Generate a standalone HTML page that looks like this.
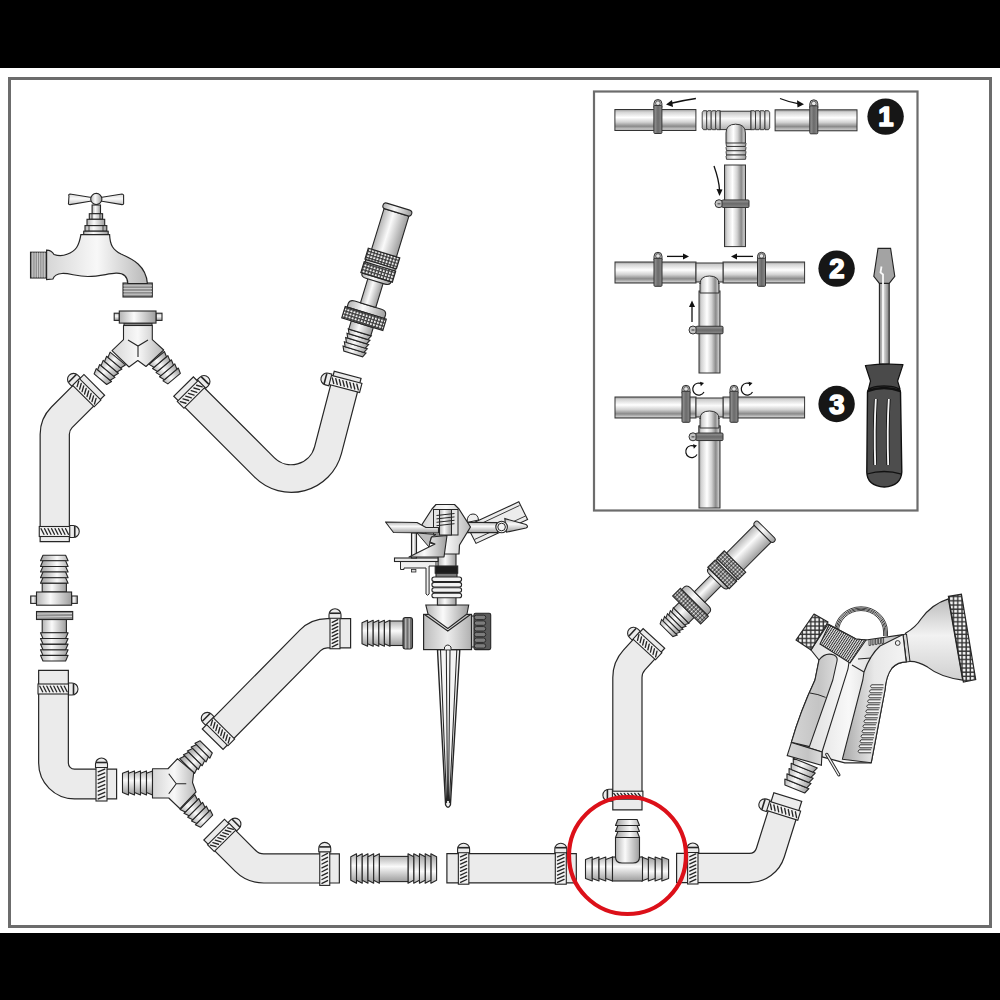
<!DOCTYPE html>
<html><head><meta charset="utf-8"><style>html,body{margin:0;padding:0;background:#fff;width:1000px;height:1000px;overflow:hidden}svg{display:block}</style></head>
<body><svg width="1000" height="1000" viewBox="0 0 1000 1000">
<defs>
<linearGradient id="met" x1="0" y1="0" x2="0" y2="1"><stop offset="0" stop-color="#a9a9a9"/><stop offset="0.35" stop-color="#fbfbfb"/><stop offset="1" stop-color="#8f8f8f"/></linearGradient>
<linearGradient id="mv" x1="0" y1="0" x2="0" y2="1"><stop offset="0" stop-color="#b4b4b4"/><stop offset="0.4" stop-color="#fafafa"/><stop offset="1" stop-color="#9d9d9d"/></linearGradient>
<linearGradient id="mh" x1="0" y1="0" x2="1" y2="0"><stop offset="0" stop-color="#b4b4b4"/><stop offset="0.4" stop-color="#fafafa"/><stop offset="1" stop-color="#9d9d9d"/></linearGradient>
<linearGradient id="mh2" x1="0" y1="0" x2="1" y2="0"><stop offset="0" stop-color="#d6d6d6"/><stop offset="0.5" stop-color="#f8f8f8"/><stop offset="1" stop-color="#b8b8b8"/></linearGradient>
<linearGradient id="bell" x1="0" y1="0" x2="0" y2="1"><stop offset="0" stop-color="#bdbdbd"/><stop offset="0.45" stop-color="#f2f2f2"/><stop offset="1" stop-color="#d0d0d0"/></linearGradient>
<pattern id="knurl2" patternUnits="userSpaceOnUse" width="4.2" height="4.2"><rect width="4.2" height="4.2" fill="#333"/><rect x="0.9" y="0.9" width="2.8" height="2.8" fill="#f4f4f4"/></pattern>
<pattern id="ribs" patternUnits="userSpaceOnUse" width="2.1" height="6" patternTransform="rotate(33)"><rect width="2.1" height="6" fill="#e8e8e8"/><rect width="0.95" height="6" fill="#2a2a2a"/></pattern>
<linearGradient id="trig" x1="0" y1="0" x2="1" y2="0"><stop offset="0" stop-color="#a8a8a8"/><stop offset="0.5" stop-color="#e8e8e8"/><stop offset="1" stop-color="#f4f4f4"/></linearGradient>
<linearGradient id="grip" x1="0" y1="0" x2="1" y2="0"><stop offset="0" stop-color="#d4d4d4"/><stop offset="0.6" stop-color="#c4c4c4"/><stop offset="1" stop-color="#dcdcdc"/></linearGradient>
<linearGradient id="pm" x1="0" y1="0" x2="0" y2="1"><stop offset="0" stop-color="#9a9a9a"/><stop offset="0.12" stop-color="#d4d4d4"/><stop offset="0.38" stop-color="#ffffff"/><stop offset="0.6" stop-color="#d2d2d2"/><stop offset="0.8" stop-color="#8a8a8a"/><stop offset="0.93" stop-color="#c4c4c4"/><stop offset="1" stop-color="#a0a0a0"/></linearGradient>
<linearGradient id="pmh" x1="0" y1="0" x2="1" y2="0"><stop offset="0" stop-color="#9a9a9a"/><stop offset="0.12" stop-color="#d4d4d4"/><stop offset="0.38" stop-color="#ffffff"/><stop offset="0.6" stop-color="#d2d2d2"/><stop offset="0.8" stop-color="#8a8a8a"/><stop offset="0.93" stop-color="#c4c4c4"/><stop offset="1" stop-color="#a0a0a0"/></linearGradient>
<linearGradient id="pm2" x1="0" y1="0" x2="0" y2="1"><stop offset="0" stop-color="#c0c0c0"/><stop offset="0.4" stop-color="#fafafa"/><stop offset="1" stop-color="#b0b0b0"/></linearGradient>
<linearGradient id="cm" x1="0" y1="0" x2="1" y2="0"><stop offset="0" stop-color="#9a9a9a"/><stop offset="0.5" stop-color="#6a6a6a"/><stop offset="1" stop-color="#8a8a8a"/></linearGradient>
<linearGradient id="cmh" x1="0" y1="0" x2="0" y2="1"><stop offset="0" stop-color="#9a9a9a"/><stop offset="0.5" stop-color="#6a6a6a"/><stop offset="1" stop-color="#8a8a8a"/></linearGradient>
<linearGradient id="sdm" x1="0" y1="0" x2="1" y2="0"><stop offset="0" stop-color="#8a8a8a"/><stop offset="0.45" stop-color="#d8d8d8"/><stop offset="1" stop-color="#7a7a7a"/></linearGradient>
<linearGradient id="sprb" x1="0" y1="0" x2="1" y2="0"><stop offset="0" stop-color="#bcbcbc"/><stop offset="0.5" stop-color="#ececec"/><stop offset="1" stop-color="#b0b0b0"/></linearGradient>
<linearGradient id="hdl" x1="0" y1="0" x2="0" y2="1"><stop offset="0" stop-color="#d8d8d8"/><stop offset="0.45" stop-color="#fafafa"/><stop offset="1" stop-color="#c4c4c4"/></linearGradient>
<pattern id="knurl" patternUnits="userSpaceOnUse" width="3.2" height="3.2"><rect width="3.2" height="3.2" fill="#3a3a3a"/><rect x="0.8" y="0.8" width="2" height="2" rx="0.4" fill="#f0f0f0"/></pattern>
</defs>
<rect x="0" y="0" width="1000" height="68" fill="#000"/>
<rect x="0" y="933" width="1000" height="67" fill="#000"/>
<rect x="9.5" y="78.5" width="981" height="848" fill="none" stroke="#6c6c6c" stroke-width="3"/>
<rect x="594" y="91.5" width="323.5" height="419" fill="none" stroke="#6c6c6c" stroke-width="2.2"/>
<path d="M94.70,384.40 L61.78,417.32 A24,24 0 0 0 54.75,434.29 L54.75,542.20" fill="none" stroke="#262626" stroke-width="30.4" stroke-linejoin="round"/>
<path d="M93.85,385.25 L61.78,417.32 A24,24 0 0 0 54.75,434.29 L54.75,541.00" fill="none" stroke="#ebebeb" stroke-width="28" stroke-linejoin="round"/>
<g transform="translate(86.60,392.50) rotate(135.00)"><rect x="-4.75" y="-15.5" width="9.5" height="31" fill="#f2f2f2" stroke="#262626" stroke-width="1.1"/><line x1="-2.55" y1="-10.85" x2="2.55" y2="-13.65" stroke="#262626" stroke-width="1.35" stroke-linecap="round"/><line x1="-2.55" y1="-7.35" x2="2.55" y2="-10.15" stroke="#262626" stroke-width="1.35" stroke-linecap="round"/><line x1="-2.55" y1="-3.85" x2="2.55" y2="-6.65" stroke="#262626" stroke-width="1.35" stroke-linecap="round"/><line x1="-2.55" y1="-0.35" x2="2.55" y2="-3.15" stroke="#262626" stroke-width="1.35" stroke-linecap="round"/><line x1="-2.55" y1="3.15" x2="2.55" y2="0.35" stroke="#262626" stroke-width="1.35" stroke-linecap="round"/><line x1="-2.55" y1="6.65" x2="2.55" y2="3.85" stroke="#262626" stroke-width="1.35" stroke-linecap="round"/><line x1="-2.55" y1="10.15" x2="2.55" y2="7.35" stroke="#262626" stroke-width="1.35" stroke-linecap="round"/><line x1="-2.55" y1="13.65" x2="2.55" y2="10.85" stroke="#262626" stroke-width="1.35" stroke-linecap="round"/><path d="M-6,15.0 L-6,18.5 A6,6 0 0 0 6,18.5 L6,15.0 Z" fill="#ececec" stroke="#262626" stroke-width="1.1"/><line x1="-5.5" y1="20.0" x2="5.5" y2="20.0" stroke="#262626" stroke-width="1.6"/></g>
<g transform="translate(54.75,531.50) rotate(-90.00)"><rect x="-5.0" y="-15.5" width="10" height="31" fill="#f2f2f2" stroke="#262626" stroke-width="1.1"/><line x1="-2.8" y1="-10.85" x2="2.8" y2="-13.65" stroke="#262626" stroke-width="1.35" stroke-linecap="round"/><line x1="-2.8" y1="-7.35" x2="2.8" y2="-10.15" stroke="#262626" stroke-width="1.35" stroke-linecap="round"/><line x1="-2.8" y1="-3.85" x2="2.8" y2="-6.65" stroke="#262626" stroke-width="1.35" stroke-linecap="round"/><line x1="-2.8" y1="-0.35" x2="2.8" y2="-3.15" stroke="#262626" stroke-width="1.35" stroke-linecap="round"/><line x1="-2.8" y1="3.15" x2="2.8" y2="0.35" stroke="#262626" stroke-width="1.35" stroke-linecap="round"/><line x1="-2.8" y1="6.65" x2="2.8" y2="3.85" stroke="#262626" stroke-width="1.35" stroke-linecap="round"/><line x1="-2.8" y1="10.15" x2="2.8" y2="7.35" stroke="#262626" stroke-width="1.35" stroke-linecap="round"/><line x1="-2.8" y1="13.65" x2="2.8" y2="10.85" stroke="#262626" stroke-width="1.35" stroke-linecap="round"/><path d="M-6,15.0 L-6,18.5 A6,6 0 0 0 6,18.5 L6,15.0 Z" fill="#ececec" stroke="#262626" stroke-width="1.1"/><line x1="-5.5" y1="20.0" x2="5.5" y2="20.0" stroke="#262626" stroke-width="1.6"/></g>
<path d="M53.50,669.80 L53.50,763.00 A21,21 0 0 0 74.50,784.00 L117.20,784.00" fill="none" stroke="#262626" stroke-width="30.9" stroke-linejoin="round"/>
<path d="M53.50,671.00 L53.50,763.00 A21,21 0 0 0 74.50,784.00 L116.00,784.00" fill="none" stroke="#ebebeb" stroke-width="28.5" stroke-linejoin="round"/>
<g transform="translate(53.50,689.00) rotate(90.00)"><rect x="-5.0" y="-15.5" width="10" height="31" fill="#f2f2f2" stroke="#262626" stroke-width="1.1"/><line x1="-2.8" y1="-10.85" x2="2.8" y2="-13.65" stroke="#262626" stroke-width="1.35" stroke-linecap="round"/><line x1="-2.8" y1="-7.35" x2="2.8" y2="-10.15" stroke="#262626" stroke-width="1.35" stroke-linecap="round"/><line x1="-2.8" y1="-3.85" x2="2.8" y2="-6.65" stroke="#262626" stroke-width="1.35" stroke-linecap="round"/><line x1="-2.8" y1="-0.35" x2="2.8" y2="-3.15" stroke="#262626" stroke-width="1.35" stroke-linecap="round"/><line x1="-2.8" y1="3.15" x2="2.8" y2="0.35" stroke="#262626" stroke-width="1.35" stroke-linecap="round"/><line x1="-2.8" y1="6.65" x2="2.8" y2="3.85" stroke="#262626" stroke-width="1.35" stroke-linecap="round"/><line x1="-2.8" y1="10.15" x2="2.8" y2="7.35" stroke="#262626" stroke-width="1.35" stroke-linecap="round"/><line x1="-2.8" y1="13.65" x2="2.8" y2="10.85" stroke="#262626" stroke-width="1.35" stroke-linecap="round"/><path d="M-6,-15.0 L-6,-18.5 A6,6 0 0 1 6,-18.5 L6,-15.0 Z" fill="#ececec" stroke="#262626" stroke-width="1.1"/><line x1="-5.5" y1="-20.0" x2="5.5" y2="-20.0" stroke="#262626" stroke-width="1.6"/></g>
<g transform="translate(101.50,784.00) rotate(180.00)"><rect x="-5.5" y="-17.0" width="11" height="34" fill="#f2f2f2" stroke="#262626" stroke-width="1.1"/><line x1="-3.3" y1="-12.16" x2="3.3" y2="-14.96" stroke="#262626" stroke-width="1.35" stroke-linecap="round"/><line x1="-3.3" y1="-8.29" x2="3.3" y2="-11.09" stroke="#262626" stroke-width="1.35" stroke-linecap="round"/><line x1="-3.3" y1="-4.41" x2="3.3" y2="-7.21" stroke="#262626" stroke-width="1.35" stroke-linecap="round"/><line x1="-3.3" y1="-0.54" x2="3.3" y2="-3.34" stroke="#262626" stroke-width="1.35" stroke-linecap="round"/><line x1="-3.3" y1="3.34" x2="3.3" y2="0.54" stroke="#262626" stroke-width="1.35" stroke-linecap="round"/><line x1="-3.3" y1="7.21" x2="3.3" y2="4.41" stroke="#262626" stroke-width="1.35" stroke-linecap="round"/><line x1="-3.3" y1="11.09" x2="3.3" y2="8.29" stroke="#262626" stroke-width="1.35" stroke-linecap="round"/><line x1="-3.3" y1="14.96" x2="3.3" y2="12.16" stroke="#262626" stroke-width="1.35" stroke-linecap="round"/><path d="M-6,16.5 L-6,20.0 A6,6 0 0 0 6,20.0 L6,16.5 Z" fill="#ececec" stroke="#262626" stroke-width="1.1"/><line x1="-5.5" y1="21.5" x2="5.5" y2="21.5" stroke="#262626" stroke-width="1.6"/></g>
<path d="M351.20,633.25 L327.28,633.25 A24,24 0 0 0 310.20,640.39 L212.26,739.60" fill="none" stroke="#262626" stroke-width="30.4" stroke-linejoin="round"/>
<path d="M350.00,633.25 L327.28,633.25 A24,24 0 0 0 310.20,640.39 L213.10,738.75" fill="none" stroke="#ebebeb" stroke-width="28" stroke-linejoin="round"/>
<g transform="translate(335.00,633.25) rotate(180.00)"><rect x="-5.0" y="-15.5" width="10" height="31" fill="#f2f2f2" stroke="#262626" stroke-width="1.1"/><line x1="-2.8" y1="-10.85" x2="2.8" y2="-13.65" stroke="#262626" stroke-width="1.35" stroke-linecap="round"/><line x1="-2.8" y1="-7.35" x2="2.8" y2="-10.15" stroke="#262626" stroke-width="1.35" stroke-linecap="round"/><line x1="-2.8" y1="-3.85" x2="2.8" y2="-6.65" stroke="#262626" stroke-width="1.35" stroke-linecap="round"/><line x1="-2.8" y1="-0.35" x2="2.8" y2="-3.15" stroke="#262626" stroke-width="1.35" stroke-linecap="round"/><line x1="-2.8" y1="3.15" x2="2.8" y2="0.35" stroke="#262626" stroke-width="1.35" stroke-linecap="round"/><line x1="-2.8" y1="6.65" x2="2.8" y2="3.85" stroke="#262626" stroke-width="1.35" stroke-linecap="round"/><line x1="-2.8" y1="10.15" x2="2.8" y2="7.35" stroke="#262626" stroke-width="1.35" stroke-linecap="round"/><line x1="-2.8" y1="13.65" x2="2.8" y2="10.85" stroke="#262626" stroke-width="1.35" stroke-linecap="round"/><path d="M-6,15.0 L-6,18.5 A6,6 0 0 0 6,18.5 L6,15.0 Z" fill="#ececec" stroke="#262626" stroke-width="1.1"/><line x1="-5.5" y1="20.0" x2="5.5" y2="20.0" stroke="#262626" stroke-width="1.6"/></g>
<g transform="translate(220.35,731.50) rotate(-45.00)"><rect x="-4.75" y="-15.5" width="9.5" height="31" fill="#f2f2f2" stroke="#262626" stroke-width="1.1"/><line x1="-2.55" y1="-10.85" x2="2.55" y2="-13.65" stroke="#262626" stroke-width="1.35" stroke-linecap="round"/><line x1="-2.55" y1="-7.35" x2="2.55" y2="-10.15" stroke="#262626" stroke-width="1.35" stroke-linecap="round"/><line x1="-2.55" y1="-3.85" x2="2.55" y2="-6.65" stroke="#262626" stroke-width="1.35" stroke-linecap="round"/><line x1="-2.55" y1="-0.35" x2="2.55" y2="-3.15" stroke="#262626" stroke-width="1.35" stroke-linecap="round"/><line x1="-2.55" y1="3.15" x2="2.55" y2="0.35" stroke="#262626" stroke-width="1.35" stroke-linecap="round"/><line x1="-2.55" y1="6.65" x2="2.55" y2="3.85" stroke="#262626" stroke-width="1.35" stroke-linecap="round"/><line x1="-2.55" y1="10.15" x2="2.55" y2="7.35" stroke="#262626" stroke-width="1.35" stroke-linecap="round"/><line x1="-2.55" y1="13.65" x2="2.55" y2="10.85" stroke="#262626" stroke-width="1.35" stroke-linecap="round"/><path d="M-6,-15.0 L-6,-18.5 A6,6 0 0 1 6,-18.5 L6,-15.0 Z" fill="#ececec" stroke="#262626" stroke-width="1.1"/><line x1="-5.5" y1="-20.0" x2="5.5" y2="-20.0" stroke="#262626" stroke-width="1.6"/></g>
<path d="M213.75,829.15 L245.38,860.78 A26,26 0 0 0 263.77,868.40 L339.95,868.40" fill="none" stroke="#262626" stroke-width="30.4" stroke-linejoin="round"/>
<path d="M214.60,830.00 L245.38,860.78 A26,26 0 0 0 263.77,868.40 L338.75,868.40" fill="none" stroke="#ebebeb" stroke-width="28" stroke-linejoin="round"/>
<g transform="translate(221.85,837.25) rotate(45.00)"><rect x="-4.75" y="-15.5" width="9.5" height="31" fill="#f2f2f2" stroke="#262626" stroke-width="1.1"/><line x1="-2.55" y1="-10.85" x2="2.55" y2="-13.65" stroke="#262626" stroke-width="1.35" stroke-linecap="round"/><line x1="-2.55" y1="-7.35" x2="2.55" y2="-10.15" stroke="#262626" stroke-width="1.35" stroke-linecap="round"/><line x1="-2.55" y1="-3.85" x2="2.55" y2="-6.65" stroke="#262626" stroke-width="1.35" stroke-linecap="round"/><line x1="-2.55" y1="-0.35" x2="2.55" y2="-3.15" stroke="#262626" stroke-width="1.35" stroke-linecap="round"/><line x1="-2.55" y1="3.15" x2="2.55" y2="0.35" stroke="#262626" stroke-width="1.35" stroke-linecap="round"/><line x1="-2.55" y1="6.65" x2="2.55" y2="3.85" stroke="#262626" stroke-width="1.35" stroke-linecap="round"/><line x1="-2.55" y1="10.15" x2="2.55" y2="7.35" stroke="#262626" stroke-width="1.35" stroke-linecap="round"/><line x1="-2.55" y1="13.65" x2="2.55" y2="10.85" stroke="#262626" stroke-width="1.35" stroke-linecap="round"/><path d="M-6,-15.0 L-6,-18.5 A6,6 0 0 1 6,-18.5 L6,-15.0 Z" fill="#ececec" stroke="#262626" stroke-width="1.1"/><line x1="-5.5" y1="-20.0" x2="5.5" y2="-20.0" stroke="#262626" stroke-width="1.6"/></g>
<g transform="translate(324.75,868.40) rotate(180.00)"><rect x="-5.0" y="-17.0" width="10" height="34" fill="#f2f2f2" stroke="#262626" stroke-width="1.1"/><line x1="-2.8" y1="-12.16" x2="2.8" y2="-14.96" stroke="#262626" stroke-width="1.35" stroke-linecap="round"/><line x1="-2.8" y1="-8.29" x2="2.8" y2="-11.09" stroke="#262626" stroke-width="1.35" stroke-linecap="round"/><line x1="-2.8" y1="-4.41" x2="2.8" y2="-7.21" stroke="#262626" stroke-width="1.35" stroke-linecap="round"/><line x1="-2.8" y1="-0.54" x2="2.8" y2="-3.34" stroke="#262626" stroke-width="1.35" stroke-linecap="round"/><line x1="-2.8" y1="3.34" x2="2.8" y2="0.54" stroke="#262626" stroke-width="1.35" stroke-linecap="round"/><line x1="-2.8" y1="7.21" x2="2.8" y2="4.41" stroke="#262626" stroke-width="1.35" stroke-linecap="round"/><line x1="-2.8" y1="11.09" x2="2.8" y2="8.29" stroke="#262626" stroke-width="1.35" stroke-linecap="round"/><line x1="-2.8" y1="14.96" x2="2.8" y2="12.16" stroke="#262626" stroke-width="1.35" stroke-linecap="round"/><path d="M-6,16.5 L-6,20.0 A6,6 0 0 0 6,20.0 L6,16.5 Z" fill="#ececec" stroke="#262626" stroke-width="1.1"/><line x1="-5.5" y1="21.5" x2="5.5" y2="21.5" stroke="#262626" stroke-width="1.6"/></g>
<path d="M446.30,868.20 L576.90,868.20" fill="none" stroke="#262626" stroke-width="30.4" stroke-linejoin="round"/>
<path d="M447.50,868.20 L575.70,868.20" fill="none" stroke="#ebebeb" stroke-width="28" stroke-linejoin="round"/>
<g transform="translate(463.60,868.20) rotate(0.00)"><rect x="-5.25" y="-16.0" width="10.5" height="32" fill="#f2f2f2" stroke="#262626" stroke-width="1.1"/><line x1="-3.05" y1="-11.29" x2="3.05" y2="-14.09" stroke="#262626" stroke-width="1.35" stroke-linecap="round"/><line x1="-3.05" y1="-7.66" x2="3.05" y2="-10.46" stroke="#262626" stroke-width="1.35" stroke-linecap="round"/><line x1="-3.05" y1="-4.04" x2="3.05" y2="-6.84" stroke="#262626" stroke-width="1.35" stroke-linecap="round"/><line x1="-3.05" y1="-0.41" x2="3.05" y2="-3.21" stroke="#262626" stroke-width="1.35" stroke-linecap="round"/><line x1="-3.05" y1="3.21" x2="3.05" y2="0.41" stroke="#262626" stroke-width="1.35" stroke-linecap="round"/><line x1="-3.05" y1="6.84" x2="3.05" y2="4.04" stroke="#262626" stroke-width="1.35" stroke-linecap="round"/><line x1="-3.05" y1="10.46" x2="3.05" y2="7.66" stroke="#262626" stroke-width="1.35" stroke-linecap="round"/><line x1="-3.05" y1="14.09" x2="3.05" y2="11.29" stroke="#262626" stroke-width="1.35" stroke-linecap="round"/><path d="M-6,-15.5 L-6,-19.0 A6,6 0 0 1 6,-19.0 L6,-15.5 Z" fill="#ececec" stroke="#262626" stroke-width="1.1"/><line x1="-5.5" y1="-20.5" x2="5.5" y2="-20.5" stroke="#262626" stroke-width="1.6"/></g>
<g transform="translate(560.80,868.20) rotate(0.00)"><rect x="-5.5" y="-16.0" width="11" height="32" fill="#f2f2f2" stroke="#262626" stroke-width="1.1"/><line x1="-3.3" y1="-11.29" x2="3.3" y2="-14.09" stroke="#262626" stroke-width="1.35" stroke-linecap="round"/><line x1="-3.3" y1="-7.66" x2="3.3" y2="-10.46" stroke="#262626" stroke-width="1.35" stroke-linecap="round"/><line x1="-3.3" y1="-4.04" x2="3.3" y2="-6.84" stroke="#262626" stroke-width="1.35" stroke-linecap="round"/><line x1="-3.3" y1="-0.41" x2="3.3" y2="-3.21" stroke="#262626" stroke-width="1.35" stroke-linecap="round"/><line x1="-3.3" y1="3.21" x2="3.3" y2="0.41" stroke="#262626" stroke-width="1.35" stroke-linecap="round"/><line x1="-3.3" y1="6.84" x2="3.3" y2="4.04" stroke="#262626" stroke-width="1.35" stroke-linecap="round"/><line x1="-3.3" y1="10.46" x2="3.3" y2="7.66" stroke="#262626" stroke-width="1.35" stroke-linecap="round"/><line x1="-3.3" y1="14.09" x2="3.3" y2="11.29" stroke="#262626" stroke-width="1.35" stroke-linecap="round"/><path d="M-6,-15.5 L-6,-19.0 A6,6 0 0 1 6,-19.0 L6,-15.5 Z" fill="#ececec" stroke="#262626" stroke-width="1.1"/><line x1="-5.5" y1="-20.5" x2="5.5" y2="-20.5" stroke="#262626" stroke-width="1.6"/></g>
<path d="M183.15,386.15 L264.39,467.39 A38,38 0 0 0 328.03,450.10 L347.80,374.24" fill="none" stroke="#262626" stroke-width="28.9" stroke-linejoin="round"/>
<path d="M184.00,387.00 L264.39,467.39 A38,38 0 0 0 328.03,450.10 L347.50,375.40" fill="none" stroke="#ebebeb" stroke-width="26.5" stroke-linejoin="round"/>
<g transform="translate(191.25,394.25) rotate(45.00)"><rect x="-4.75" y="-15.0" width="9.5" height="30" fill="#f2f2f2" stroke="#262626" stroke-width="1.1"/><line x1="-2.55" y1="-10.17" x2="2.55" y2="-12.97" stroke="#262626" stroke-width="1.35" stroke-linecap="round"/><line x1="-2.55" y1="-6.31" x2="2.55" y2="-9.11" stroke="#262626" stroke-width="1.35" stroke-linecap="round"/><line x1="-2.55" y1="-2.46" x2="2.55" y2="-5.26" stroke="#262626" stroke-width="1.35" stroke-linecap="round"/><line x1="-2.55" y1="1.40" x2="2.55" y2="-1.40" stroke="#262626" stroke-width="1.35" stroke-linecap="round"/><line x1="-2.55" y1="5.26" x2="2.55" y2="2.46" stroke="#262626" stroke-width="1.35" stroke-linecap="round"/><line x1="-2.55" y1="9.11" x2="2.55" y2="6.31" stroke="#262626" stroke-width="1.35" stroke-linecap="round"/><line x1="-2.55" y1="12.97" x2="2.55" y2="10.17" stroke="#262626" stroke-width="1.35" stroke-linecap="round"/><path d="M-6,-14.5 L-6,-18.0 A6,6 0 0 1 6,-18.0 L6,-14.5 Z" fill="#ececec" stroke="#262626" stroke-width="1.1"/><line x1="-5.5" y1="-19.5" x2="5.5" y2="-19.5" stroke="#262626" stroke-width="1.6"/></g>
<g transform="translate(345.29,383.87) rotate(104.60)"><rect x="-4.75" y="-16.0" width="9.5" height="32" fill="#f2f2f2" stroke="#262626" stroke-width="1.1"/><line x1="-2.55" y1="-11.29" x2="2.55" y2="-14.09" stroke="#262626" stroke-width="1.35" stroke-linecap="round"/><line x1="-2.55" y1="-7.66" x2="2.55" y2="-10.46" stroke="#262626" stroke-width="1.35" stroke-linecap="round"/><line x1="-2.55" y1="-4.04" x2="2.55" y2="-6.84" stroke="#262626" stroke-width="1.35" stroke-linecap="round"/><line x1="-2.55" y1="-0.41" x2="2.55" y2="-3.21" stroke="#262626" stroke-width="1.35" stroke-linecap="round"/><line x1="-2.55" y1="3.21" x2="2.55" y2="0.41" stroke="#262626" stroke-width="1.35" stroke-linecap="round"/><line x1="-2.55" y1="6.84" x2="2.55" y2="4.04" stroke="#262626" stroke-width="1.35" stroke-linecap="round"/><line x1="-2.55" y1="10.46" x2="2.55" y2="7.66" stroke="#262626" stroke-width="1.35" stroke-linecap="round"/><line x1="-2.55" y1="14.09" x2="2.55" y2="11.29" stroke="#262626" stroke-width="1.35" stroke-linecap="round"/><path d="M-6,15.5 L-6,19.0 A6,6 0 0 0 6,19.0 L6,15.5 Z" fill="#ececec" stroke="#262626" stroke-width="1.1"/><line x1="-5.5" y1="20.5" x2="5.5" y2="20.5" stroke="#262626" stroke-width="1.6"/></g>
<path d="M69,196 Q68,194.5 70,194 L90,197.3 L102,197.3 L122,194 Q124,194.5 123.6,196 L123.6,203 Q124,204.6 122,204.6 L102,201.2 L90,201.2 L70,204.6 Q68,204.6 68.5,203 Z" fill="url(#hdl)" stroke="#262626" stroke-width="1.1"/><circle cx="96.3" cy="199" r="5.6" fill="url(#mh)" stroke="#262626" stroke-width="1.1"/><rect x="92.10" y="205.00" width="8.40" height="8.70" fill="url(#mh)" stroke="#262626" stroke-width="1.1" /><rect x="89.30" y="213.70" width="13.30" height="5.60" fill="url(#mh)" stroke="#262626" stroke-width="1.1" /><rect x="87.00" y="219.30" width="17.70" height="6.30" fill="url(#mh)" stroke="#262626" stroke-width="1.1" /><rect x="85.00" y="225.60" width="21.80" height="5.60" fill="url(#mh)" stroke="#262626" stroke-width="1.1" /><line x1="92" y1="213.7" x2="92" y2="219.3" stroke="#262626" stroke-width="0.8"/><line x1="100" y1="213.7" x2="100" y2="219.3" stroke="#262626" stroke-width="0.8"/><line x1="89" y1="225.6" x2="89" y2="231.2" stroke="#262626" stroke-width="0.8"/><line x1="103" y1="225.6" x2="103" y2="231.2" stroke="#262626" stroke-width="0.8"/><rect x="83.70" y="231.20" width="24.50" height="3.50" fill="url(#mh)" stroke="#262626" stroke-width="1.1" /><rect x="30.50" y="252.20" width="16.10" height="25.80" fill="#8d8d8d" stroke="#262626" stroke-width="1.1" /><line x1="32.80" y1="252.5" x2="32.80" y2="277.5" stroke="#d8d8d8" stroke-width="0.9"/><line x1="35.10" y1="252.5" x2="35.10" y2="277.5" stroke="#d8d8d8" stroke-width="0.9"/><line x1="37.40" y1="252.5" x2="37.40" y2="277.5" stroke="#d8d8d8" stroke-width="0.9"/><line x1="39.70" y1="252.5" x2="39.70" y2="277.5" stroke="#d8d8d8" stroke-width="0.9"/><line x1="42.00" y1="252.5" x2="42.00" y2="277.5" stroke="#d8d8d8" stroke-width="0.9"/><line x1="44.30" y1="252.5" x2="44.30" y2="277.5" stroke="#d8d8d8" stroke-width="0.9"/><rect x="123.00" y="283.00" width="29.30" height="14.00" fill="#8d8d8d" stroke="#262626" stroke-width="1.1" /><line x1="123.5" y1="285.80" x2="152" y2="285.80" stroke="#d8d8d8" stroke-width="0.9"/><line x1="123.5" y1="288.60" x2="152" y2="288.60" stroke="#d8d8d8" stroke-width="0.9"/><line x1="123.5" y1="291.40" x2="152" y2="291.40" stroke="#d8d8d8" stroke-width="0.9"/><line x1="123.5" y1="294.20" x2="152" y2="294.20" stroke="#d8d8d8" stroke-width="0.9"/><path d="M80.9,234.7 L109.6,234.7 C110,245 113,250 121,254 C132,259 146,265 147.4,283.5 L127.8,283.5 C127.5,275 122,273 116,273.2 C108,273.5 100,276.5 88,276.5 C76,276.5 70,273 62,273.5 C56,274 54,276 52.9,279 L46.6,279.5 L46.6,250.1 C50,250.2 52,251 54,254.5 C58,256 63,256 67,254.3 C76,251 79,246 80.9,234.7 Z" fill="url(#mh2)" stroke="#262626" stroke-width="1.2"/>

<g transform="translate(100.40,379.20) rotate(-50.00)"><path d="M0.00,-8.20 L5.40,-10.00 L5.40,10.00 L0.00,8.20 Z" fill="url(#mv)" stroke="#262626" stroke-width="1.1" stroke-linejoin="round"/><path d="M5.40,-8.20 L10.80,-10.00 L10.80,10.00 L5.40,8.20 Z" fill="url(#mv)" stroke="#262626" stroke-width="1.1" stroke-linejoin="round"/><path d="M10.80,-8.20 L16.20,-10.00 L16.20,10.00 L10.80,8.20 Z" fill="url(#mv)" stroke="#262626" stroke-width="1.1" stroke-linejoin="round"/><path d="M16.20,-8.20 L21.60,-10.00 L21.60,10.00 L16.20,8.20 Z" fill="url(#mv)" stroke="#262626" stroke-width="1.1" stroke-linejoin="round"/><path d="M21.60,-8.20 L27.00,-10.00 L27.00,10.00 L21.60,8.20 Z" fill="url(#mv)" stroke="#262626" stroke-width="1.1" stroke-linejoin="round"/></g>
<g transform="translate(174.10,378.60) rotate(-130.00)"><path d="M0.00,-8.20 L5.40,-10.00 L5.40,10.00 L0.00,8.20 Z" fill="url(#mv)" stroke="#262626" stroke-width="1.1" stroke-linejoin="round"/><path d="M5.40,-8.20 L10.80,-10.00 L10.80,10.00 L5.40,8.20 Z" fill="url(#mv)" stroke="#262626" stroke-width="1.1" stroke-linejoin="round"/><path d="M10.80,-8.20 L16.20,-10.00 L16.20,10.00 L10.80,8.20 Z" fill="url(#mv)" stroke="#262626" stroke-width="1.1" stroke-linejoin="round"/><path d="M16.20,-8.20 L21.60,-10.00 L21.60,10.00 L16.20,8.20 Z" fill="url(#mv)" stroke="#262626" stroke-width="1.1" stroke-linejoin="round"/><path d="M21.60,-8.20 L27.00,-10.00 L27.00,10.00 L21.60,8.20 Z" fill="url(#mv)" stroke="#262626" stroke-width="1.1" stroke-linejoin="round"/></g>
<path d="M123.5,325.5 L152.3,325.5 L152.3,339.6 L163.7,350 L146,366.5 L137.8,360.5 L129,367 L112,350.6 L123.5,339.6 Z" fill="url(#mh2)" stroke="#262626" stroke-width="1.1" stroke-linejoin="round"/><path d="M128,340 L138,346 L148,340 M138,346 L138,357" fill="none" stroke="#262626" stroke-width="1.1"/><rect x="124.00" y="323.00" width="28.00" height="2.50" fill="#8a8a8a" stroke="#262626" stroke-width="1.1" /><rect x="114.20" y="313.20" width="5.10" height="7.20" fill="url(#mv)" stroke="#262626" stroke-width="1.1" /><rect x="156.00" y="313.20" width="6.00" height="7.20" fill="url(#mv)" stroke="#262626" stroke-width="1.1" /><rect x="119.30" y="311.00" width="36.70" height="12.10" fill="url(#mh)" stroke="#262626" stroke-width="1.1" />

<g transform="translate(54.30,555.20) rotate(90.00)"><path d="M0.00,-11.32 L5.62,-13.80 L5.62,13.80 L0.00,11.32 Z" fill="url(#mv)" stroke="#262626" stroke-width="1.1" stroke-linejoin="round"/><path d="M5.62,-11.32 L11.24,-13.80 L11.24,13.80 L5.62,11.32 Z" fill="url(#mv)" stroke="#262626" stroke-width="1.1" stroke-linejoin="round"/><path d="M11.24,-11.32 L16.86,-13.80 L16.86,13.80 L11.24,11.32 Z" fill="url(#mv)" stroke="#262626" stroke-width="1.1" stroke-linejoin="round"/><path d="M16.86,-11.32 L22.48,-13.80 L22.48,13.80 L16.86,11.32 Z" fill="url(#mv)" stroke="#262626" stroke-width="1.1" stroke-linejoin="round"/><path d="M22.48,-11.32 L28.10,-13.80 L28.10,13.80 L22.48,11.32 Z" fill="url(#mv)" stroke="#262626" stroke-width="1.1" stroke-linejoin="round"/></g>
<rect x="42.20" y="583.30" width="24.20" height="8.70" fill="url(#mh)" stroke="#262626" stroke-width="1.1" /><rect x="30.70" y="596.00" width="5.80" height="7.40" fill="url(#mh)" stroke="#262626" stroke-width="1.1" /><rect x="71.60" y="596.00" width="5.70" height="7.40" fill="url(#mh)" stroke="#262626" stroke-width="1.1" /><rect x="36.50" y="592.00" width="35.10" height="13.20" fill="url(#mh)" stroke="#262626" stroke-width="1.1" /><rect x="42.20" y="619.50" width="24.20" height="13.30" fill="url(#mh)" stroke="#262626" stroke-width="1.1" /><rect x="36.50" y="611.50" width="36.20" height="8.00" fill="#8f8f8f" stroke="#262626" stroke-width="1.1" /><path d="M37,614 L72,613.5 M37,617 L72,616.5" stroke="#dcdcdc" stroke-width="0.9"/>
<g transform="translate(54.30,661.00) rotate(-90.00)"><path d="M0.00,-11.32 L5.64,-13.80 L5.64,13.80 L0.00,11.32 Z" fill="url(#mv)" stroke="#262626" stroke-width="1.1" stroke-linejoin="round"/><path d="M5.64,-11.32 L11.28,-13.80 L11.28,13.80 L5.64,11.32 Z" fill="url(#mv)" stroke="#262626" stroke-width="1.1" stroke-linejoin="round"/><path d="M11.28,-11.32 L16.92,-13.80 L16.92,13.80 L11.28,11.32 Z" fill="url(#mv)" stroke="#262626" stroke-width="1.1" stroke-linejoin="round"/><path d="M16.92,-11.32 L22.56,-13.80 L22.56,13.80 L16.92,11.32 Z" fill="url(#mv)" stroke="#262626" stroke-width="1.1" stroke-linejoin="round"/><path d="M22.56,-11.32 L28.20,-13.80 L28.20,13.80 L22.56,11.32 Z" fill="url(#mv)" stroke="#262626" stroke-width="1.1" stroke-linejoin="round"/></g>
<g transform="translate(353.20,353.90) rotate(-73.00)" ><g transform="scale(1.0)"><path d="M0.00,-9.84 L4.50,-12.00 L4.50,12.00 L0.00,9.84 Z" fill="url(#mv)" stroke="#262626" stroke-width="1.1"/><path d="M4.50,-9.84 L9.00,-12.00 L9.00,12.00 L4.50,9.84 Z" fill="url(#mv)" stroke="#262626" stroke-width="1.1"/><path d="M9.00,-9.84 L13.50,-12.00 L13.50,12.00 L9.00,9.84 Z" fill="url(#mv)" stroke="#262626" stroke-width="1.1"/><path d="M13.50,-9.84 L18.00,-12.00 L18.00,12.00 L13.50,9.84 Z" fill="url(#mv)" stroke="#262626" stroke-width="1.1"/><path d="M18.00,-9.84 L22.50,-12.00 L22.50,12.00 L18.00,9.84 Z" fill="url(#mv)" stroke="#262626" stroke-width="1.1"/><rect x="22.50" y="-11.50" width="8.50" height="23.00" fill="url(#mv)" stroke="#262626" stroke-width="1.1" /><path d="M43,-19.5 L47,-19.5 Q51,-19 51,-14 L51,14 Q51,19 47,19.5 L43,19.5 Z" fill="url(#mv)" stroke="#262626" stroke-width="1.1"/><rect x="31.00" y="-21.50" width="12.00" height="43.00" fill="url(#knurl)" stroke="#262626" stroke-width="1.1"/><rect x="51.00" y="-8.00" width="26.00" height="16.00" fill="url(#mv)" stroke="#262626" stroke-width="1.1" /><path d="M80,-15 L78.5,-15 Q76,-14 76,-10 L76,10 Q76,14 78.5,15 L80,15 Z" fill="url(#mv)" stroke="#262626" stroke-width="1.1"/><rect x="80.00" y="-16.50" width="11.50" height="33.00" fill="url(#knurl)" stroke="#262626" stroke-width="1.1"/><rect x="91.50" y="-15.50" width="2.50" height="31.00" fill="url(#mv)" stroke="#262626" stroke-width="1.1" /><rect x="94.00" y="-16.50" width="11.50" height="33.00" fill="url(#knurl)" stroke="#262626" stroke-width="1.1"/><rect x="105.50" y="-13.00" width="42.50" height="26.00" fill="url(#mv)" stroke="#262626" stroke-width="1.1" /><rect x="148" y="-15" width="6" height="30" rx="3" fill="url(#mv)" stroke="#262626" stroke-width="1.1"/></g></g>
<g transform="translate(122.50,782.90) rotate(0.00)"><path d="M0.00,-9.60 L6.00,-12.00 L6.00,12.00 L0.00,9.60 Z" fill="url(#mv)" stroke="#262626" stroke-width="1.1" stroke-linejoin="round"/><path d="M6.00,-9.60 L12.00,-12.00 L12.00,12.00 L6.00,9.60 Z" fill="url(#mv)" stroke="#262626" stroke-width="1.1" stroke-linejoin="round"/><path d="M12.00,-9.60 L18.00,-12.00 L18.00,12.00 L12.00,9.60 Z" fill="url(#mv)" stroke="#262626" stroke-width="1.1" stroke-linejoin="round"/><path d="M18.00,-9.60 L24.00,-12.00 L24.00,12.00 L18.00,9.60 Z" fill="url(#mv)" stroke="#262626" stroke-width="1.1" stroke-linejoin="round"/><path d="M24.00,-9.60 L30.00,-12.00 L30.00,12.00 L24.00,9.60 Z" fill="url(#mv)" stroke="#262626" stroke-width="1.1" stroke-linejoin="round"/></g>
<g transform="translate(206.20,746.90) rotate(135.00)"><path d="M0.00,-8.61 L5.40,-10.50 L5.40,10.50 L0.00,8.61 Z" fill="url(#mv)" stroke="#262626" stroke-width="1.1" stroke-linejoin="round"/><path d="M5.40,-8.61 L10.80,-10.50 L10.80,10.50 L5.40,8.61 Z" fill="url(#mv)" stroke="#262626" stroke-width="1.1" stroke-linejoin="round"/><path d="M10.80,-8.61 L16.20,-10.50 L16.20,10.50 L10.80,8.61 Z" fill="url(#mv)" stroke="#262626" stroke-width="1.1" stroke-linejoin="round"/><path d="M16.20,-8.61 L21.60,-10.50 L21.60,10.50 L16.20,8.61 Z" fill="url(#mv)" stroke="#262626" stroke-width="1.1" stroke-linejoin="round"/><path d="M21.60,-8.61 L27.00,-10.50 L27.00,10.50 L21.60,8.61 Z" fill="url(#mv)" stroke="#262626" stroke-width="1.1" stroke-linejoin="round"/></g>
<g transform="translate(206.60,821.20) rotate(-135.00)"><path d="M0.00,-8.61 L5.40,-10.50 L5.40,10.50 L0.00,8.61 Z" fill="url(#mv)" stroke="#262626" stroke-width="1.1" stroke-linejoin="round"/><path d="M5.40,-8.61 L10.80,-10.50 L10.80,10.50 L5.40,8.61 Z" fill="url(#mv)" stroke="#262626" stroke-width="1.1" stroke-linejoin="round"/><path d="M10.80,-8.61 L16.20,-10.50 L16.20,10.50 L10.80,8.61 Z" fill="url(#mv)" stroke="#262626" stroke-width="1.1" stroke-linejoin="round"/><path d="M16.20,-8.61 L21.60,-10.50 L21.60,10.50 L16.20,8.61 Z" fill="url(#mv)" stroke="#262626" stroke-width="1.1" stroke-linejoin="round"/><path d="M21.60,-8.61 L27.00,-10.50 L27.00,10.50 L21.60,8.61 Z" fill="url(#mv)" stroke="#262626" stroke-width="1.1" stroke-linejoin="round"/></g>
<path d="M152.5,768.75 L168,768.75 L177.5,758.75 L193.75,772.5 L192.5,782.5 L196,792 L180,808.75 L168.75,798 L152.5,798 Z" fill="url(#mh2)" stroke="#262626" stroke-width="1.1" stroke-linejoin="round"/><path d="M168.75,773.75 L176.25,783.75 L186.25,783.75 M176.25,783.75 L168.75,793.75" fill="none" stroke="#262626" stroke-width="1.1"/>
<g transform="translate(350.80,868.50) rotate(0.00)"><path d="M0.00,-11.76 L5.72,-14.70 L5.72,14.70 L0.00,11.76 Z" fill="url(#mv)" stroke="#262626" stroke-width="1.1" stroke-linejoin="round"/><path d="M5.72,-11.76 L11.44,-14.70 L11.44,14.70 L5.72,11.76 Z" fill="url(#mv)" stroke="#262626" stroke-width="1.1" stroke-linejoin="round"/><path d="M11.44,-11.76 L17.16,-14.70 L17.16,14.70 L11.44,11.76 Z" fill="url(#mv)" stroke="#262626" stroke-width="1.1" stroke-linejoin="round"/><path d="M17.16,-11.76 L22.88,-14.70 L22.88,14.70 L17.16,11.76 Z" fill="url(#mv)" stroke="#262626" stroke-width="1.1" stroke-linejoin="round"/><path d="M22.88,-11.76 L28.60,-14.70 L28.60,14.70 L22.88,11.76 Z" fill="url(#mv)" stroke="#262626" stroke-width="1.1" stroke-linejoin="round"/></g>
<g transform="translate(436.60,868.50) rotate(180.00)"><path d="M0.00,-11.76 L5.72,-14.70 L5.72,14.70 L0.00,11.76 Z" fill="url(#mv)" stroke="#262626" stroke-width="1.1" stroke-linejoin="round"/><path d="M5.72,-11.76 L11.44,-14.70 L11.44,14.70 L5.72,11.76 Z" fill="url(#mv)" stroke="#262626" stroke-width="1.1" stroke-linejoin="round"/><path d="M11.44,-11.76 L17.16,-14.70 L17.16,14.70 L11.44,11.76 Z" fill="url(#mv)" stroke="#262626" stroke-width="1.1" stroke-linejoin="round"/><path d="M17.16,-11.76 L22.88,-14.70 L22.88,14.70 L17.16,11.76 Z" fill="url(#mv)" stroke="#262626" stroke-width="1.1" stroke-linejoin="round"/><path d="M22.88,-11.76 L28.60,-14.70 L28.60,14.70 L22.88,11.76 Z" fill="url(#mv)" stroke="#262626" stroke-width="1.1" stroke-linejoin="round"/></g>
<rect x="379.40" y="856.40" width="28.60" height="25.20" fill="url(#mv)" stroke="#262626" stroke-width="1.1" />
<g transform="translate(585.50,869.00) rotate(0.00)"><path d="M0.00,-9.60 L6.75,-12.00 L6.75,12.00 L0.00,9.60 Z" fill="url(#mv)" stroke="#262626" stroke-width="1.1" stroke-linejoin="round"/><path d="M6.75,-9.60 L13.50,-12.00 L13.50,12.00 L6.75,9.60 Z" fill="url(#mv)" stroke="#262626" stroke-width="1.1" stroke-linejoin="round"/><path d="M13.50,-9.60 L20.25,-12.00 L20.25,12.00 L13.50,9.60 Z" fill="url(#mv)" stroke="#262626" stroke-width="1.1" stroke-linejoin="round"/><path d="M20.25,-9.60 L27.00,-12.00 L27.00,12.00 L20.25,9.60 Z" fill="url(#mv)" stroke="#262626" stroke-width="1.1" stroke-linejoin="round"/></g>
<g transform="translate(668.60,869.00) rotate(180.00)"><path d="M0.00,-9.60 L6.75,-12.00 L6.75,12.00 L0.00,9.60 Z" fill="url(#mv)" stroke="#262626" stroke-width="1.1" stroke-linejoin="round"/><path d="M6.75,-9.60 L13.50,-12.00 L13.50,12.00 L6.75,9.60 Z" fill="url(#mv)" stroke="#262626" stroke-width="1.1" stroke-linejoin="round"/><path d="M13.50,-9.60 L20.25,-12.00 L20.25,12.00 L13.50,9.60 Z" fill="url(#mv)" stroke="#262626" stroke-width="1.1" stroke-linejoin="round"/><path d="M20.25,-9.60 L27.00,-12.00 L27.00,12.00 L20.25,9.60 Z" fill="url(#mv)" stroke="#262626" stroke-width="1.1" stroke-linejoin="round"/></g>
<g transform="translate(627.50,819.50) rotate(90.00)"><path d="M0.00,-9.60 L6.00,-12.00 L6.00,12.00 L0.00,9.60 Z" fill="url(#mv)" stroke="#262626" stroke-width="1.1" stroke-linejoin="round"/><path d="M6.00,-9.60 L12.00,-12.00 L12.00,12.00 L6.00,9.60 Z" fill="url(#mv)" stroke="#262626" stroke-width="1.1" stroke-linejoin="round"/><path d="M12.00,-9.60 L18.00,-12.00 L18.00,12.00 L12.00,9.60 Z" fill="url(#mv)" stroke="#262626" stroke-width="1.1" stroke-linejoin="round"/></g>
<rect x="612.50" y="857.00" width="30.00" height="24.00" fill="url(#mv)" stroke="#262626" stroke-width="1.1" /><path d="M615.5,837.5 L639.5,837.5 L639.5,857 Q639.5,863 633,863 L622,863 Q615.5,863 615.5,857 Z" fill="url(#mh)" stroke="#262626" stroke-width="1.1"/>
<g transform="translate(362.00,633.25) rotate(0.00)"><path d="M0.00,-10.40 L5.60,-13.00 L5.60,13.00 L0.00,10.40 Z" fill="url(#mv)" stroke="#262626" stroke-width="1.1" stroke-linejoin="round"/><path d="M5.60,-10.40 L11.20,-13.00 L11.20,13.00 L5.60,10.40 Z" fill="url(#mv)" stroke="#262626" stroke-width="1.1" stroke-linejoin="round"/><path d="M11.20,-10.40 L16.80,-13.00 L16.80,13.00 L11.20,10.40 Z" fill="url(#mv)" stroke="#262626" stroke-width="1.1" stroke-linejoin="round"/><path d="M16.80,-10.40 L22.40,-13.00 L22.40,13.00 L16.80,10.40 Z" fill="url(#mv)" stroke="#262626" stroke-width="1.1" stroke-linejoin="round"/><path d="M22.40,-10.40 L28.00,-13.00 L28.00,13.00 L22.40,10.40 Z" fill="url(#mv)" stroke="#262626" stroke-width="1.1" stroke-linejoin="round"/></g>
<rect x="390.00" y="621.00" width="14.00" height="24.50" fill="url(#mv)" stroke="#262626" stroke-width="1.1" /><rect x="403" y="617.5" width="9.5" height="31.5" rx="2.5" fill="#6e6e6e" stroke="#262626" stroke-width="1.1"/><path d="M405.8,618.5 L405.8,648.5 M409.2,618.5 L409.2,648.5" stroke="#c8c8c8" stroke-width="1.1"/>
<path d="M627.40,810.40 L627.40,677.58 A26,26 0 0 1 634.20,660.05 L654.31,638.01" fill="none" stroke="#262626" stroke-width="30.4" stroke-linejoin="round"/>
<path d="M627.40,809.20 L627.40,677.58 A26,26 0 0 1 634.20,660.05 L653.50,638.90" fill="none" stroke="#ebebeb" stroke-width="28" stroke-linejoin="round"/>
<g transform="translate(627.40,795.20) rotate(-90.00)"><rect x="-4.0" y="-15.5" width="8" height="31" fill="#f2f2f2" stroke="#262626" stroke-width="1.1"/><line x1="-1.7999999999999998" y1="-10.85" x2="1.7999999999999998" y2="-13.65" stroke="#262626" stroke-width="1.35" stroke-linecap="round"/><line x1="-1.7999999999999998" y1="-7.35" x2="1.7999999999999998" y2="-10.15" stroke="#262626" stroke-width="1.35" stroke-linecap="round"/><line x1="-1.7999999999999998" y1="-3.85" x2="1.7999999999999998" y2="-6.65" stroke="#262626" stroke-width="1.35" stroke-linecap="round"/><line x1="-1.7999999999999998" y1="-0.35" x2="1.7999999999999998" y2="-3.15" stroke="#262626" stroke-width="1.35" stroke-linecap="round"/><line x1="-1.7999999999999998" y1="3.15" x2="1.7999999999999998" y2="0.35" stroke="#262626" stroke-width="1.35" stroke-linecap="round"/><line x1="-1.7999999999999998" y1="6.65" x2="1.7999999999999998" y2="3.85" stroke="#262626" stroke-width="1.35" stroke-linecap="round"/><line x1="-1.7999999999999998" y1="10.15" x2="1.7999999999999998" y2="7.35" stroke="#262626" stroke-width="1.35" stroke-linecap="round"/><line x1="-1.7999999999999998" y1="13.65" x2="1.7999999999999998" y2="10.85" stroke="#262626" stroke-width="1.35" stroke-linecap="round"/><path d="M-6,-15.0 L-6,-18.5 A6,6 0 0 1 6,-18.5 L6,-15.0 Z" fill="#ececec" stroke="#262626" stroke-width="1.1"/><line x1="-5.5" y1="-20.0" x2="5.5" y2="-20.0" stroke="#262626" stroke-width="1.6"/></g>
<g transform="translate(647.26,645.73) rotate(132.40)"><rect x="-4.75" y="-15.5" width="9.5" height="31" fill="#f2f2f2" stroke="#262626" stroke-width="1.1"/><line x1="-2.55" y1="-10.85" x2="2.55" y2="-13.65" stroke="#262626" stroke-width="1.35" stroke-linecap="round"/><line x1="-2.55" y1="-7.35" x2="2.55" y2="-10.15" stroke="#262626" stroke-width="1.35" stroke-linecap="round"/><line x1="-2.55" y1="-3.85" x2="2.55" y2="-6.65" stroke="#262626" stroke-width="1.35" stroke-linecap="round"/><line x1="-2.55" y1="-0.35" x2="2.55" y2="-3.15" stroke="#262626" stroke-width="1.35" stroke-linecap="round"/><line x1="-2.55" y1="3.15" x2="2.55" y2="0.35" stroke="#262626" stroke-width="1.35" stroke-linecap="round"/><line x1="-2.55" y1="6.65" x2="2.55" y2="3.85" stroke="#262626" stroke-width="1.35" stroke-linecap="round"/><line x1="-2.55" y1="10.15" x2="2.55" y2="7.35" stroke="#262626" stroke-width="1.35" stroke-linecap="round"/><line x1="-2.55" y1="13.65" x2="2.55" y2="10.85" stroke="#262626" stroke-width="1.35" stroke-linecap="round"/><path d="M-6,15.0 L-6,18.5 A6,6 0 0 0 6,18.5 L6,15.0 Z" fill="#ececec" stroke="#262626" stroke-width="1.1"/><line x1="-5.5" y1="20.0" x2="5.5" y2="20.0" stroke="#262626" stroke-width="1.6"/></g>
<path d="M676.00,868.00 L749.35,868.00 A22,22 0 0 0 770.34,852.59 L787.96,796.46" fill="none" stroke="#262626" stroke-width="30.4" stroke-linejoin="round"/>
<path d="M677.20,868.00 L749.35,868.00 A22,22 0 0 0 770.34,852.59 L787.60,797.60" fill="none" stroke="#ebebeb" stroke-width="28" stroke-linejoin="round"/>
<g transform="translate(692.80,868.00) rotate(0.00)"><rect x="-5.2" y="-16.0" width="10.4" height="32" fill="#f2f2f2" stroke="#262626" stroke-width="1.1"/><line x1="-3.0" y1="-11.29" x2="3.0" y2="-14.09" stroke="#262626" stroke-width="1.35" stroke-linecap="round"/><line x1="-3.0" y1="-7.66" x2="3.0" y2="-10.46" stroke="#262626" stroke-width="1.35" stroke-linecap="round"/><line x1="-3.0" y1="-4.04" x2="3.0" y2="-6.84" stroke="#262626" stroke-width="1.35" stroke-linecap="round"/><line x1="-3.0" y1="-0.41" x2="3.0" y2="-3.21" stroke="#262626" stroke-width="1.35" stroke-linecap="round"/><line x1="-3.0" y1="3.21" x2="3.0" y2="0.41" stroke="#262626" stroke-width="1.35" stroke-linecap="round"/><line x1="-3.0" y1="6.84" x2="3.0" y2="4.04" stroke="#262626" stroke-width="1.35" stroke-linecap="round"/><line x1="-3.0" y1="10.46" x2="3.0" y2="7.66" stroke="#262626" stroke-width="1.35" stroke-linecap="round"/><line x1="-3.0" y1="14.09" x2="3.0" y2="11.29" stroke="#262626" stroke-width="1.35" stroke-linecap="round"/><path d="M-6,-15.5 L-6,-19.0 A6,6 0 0 1 6,-19.0 L6,-15.5 Z" fill="#ececec" stroke="#262626" stroke-width="1.1"/><line x1="-5.5" y1="-20.5" x2="5.5" y2="-20.5" stroke="#262626" stroke-width="1.6"/></g>
<g transform="translate(783.47,810.71) rotate(107.50)"><rect x="-4.75" y="-16.5" width="9.5" height="33" fill="#f2f2f2" stroke="#262626" stroke-width="1.1"/><line x1="-2.55" y1="-11.72" x2="2.55" y2="-14.53" stroke="#262626" stroke-width="1.35" stroke-linecap="round"/><line x1="-2.55" y1="-7.97" x2="2.55" y2="-10.78" stroke="#262626" stroke-width="1.35" stroke-linecap="round"/><line x1="-2.55" y1="-4.22" x2="2.55" y2="-7.03" stroke="#262626" stroke-width="1.35" stroke-linecap="round"/><line x1="-2.55" y1="-0.48" x2="2.55" y2="-3.27" stroke="#262626" stroke-width="1.35" stroke-linecap="round"/><line x1="-2.55" y1="3.27" x2="2.55" y2="0.48" stroke="#262626" stroke-width="1.35" stroke-linecap="round"/><line x1="-2.55" y1="7.03" x2="2.55" y2="4.22" stroke="#262626" stroke-width="1.35" stroke-linecap="round"/><line x1="-2.55" y1="10.78" x2="2.55" y2="7.97" stroke="#262626" stroke-width="1.35" stroke-linecap="round"/><line x1="-2.55" y1="14.53" x2="2.55" y2="11.72" stroke="#262626" stroke-width="1.35" stroke-linecap="round"/><path d="M-6,16.0 L-6,19.5 A6,6 0 0 0 6,19.5 L6,16.0 Z" fill="#ececec" stroke="#262626" stroke-width="1.1"/><line x1="-5.5" y1="21.0" x2="5.5" y2="21.0" stroke="#262626" stroke-width="1.6"/></g>
<g transform="translate(666.50,630.20) rotate(-45.10)" ><g transform="scale(0.92)"><path d="M0.00,-9.84 L4.50,-12.00 L4.50,12.00 L0.00,9.84 Z" fill="url(#mv)" stroke="#262626" stroke-width="1.1"/><path d="M4.50,-9.84 L9.00,-12.00 L9.00,12.00 L4.50,9.84 Z" fill="url(#mv)" stroke="#262626" stroke-width="1.1"/><path d="M9.00,-9.84 L13.50,-12.00 L13.50,12.00 L9.00,9.84 Z" fill="url(#mv)" stroke="#262626" stroke-width="1.1"/><path d="M13.50,-9.84 L18.00,-12.00 L18.00,12.00 L13.50,9.84 Z" fill="url(#mv)" stroke="#262626" stroke-width="1.1"/><path d="M18.00,-9.84 L22.50,-12.00 L22.50,12.00 L18.00,9.84 Z" fill="url(#mv)" stroke="#262626" stroke-width="1.1"/><rect x="22.50" y="-11.50" width="8.50" height="23.00" fill="url(#mv)" stroke="#262626" stroke-width="1.1" /><path d="M43,-19.5 L47,-19.5 Q51,-19 51,-14 L51,14 Q51,19 47,19.5 L43,19.5 Z" fill="url(#mv)" stroke="#262626" stroke-width="1.1"/><rect x="31.00" y="-21.50" width="12.00" height="43.00" fill="url(#knurl)" stroke="#262626" stroke-width="1.1"/><rect x="51.00" y="-8.00" width="26.00" height="16.00" fill="url(#mv)" stroke="#262626" stroke-width="1.1" /><path d="M80,-15 L78.5,-15 Q76,-14 76,-10 L76,10 Q76,14 78.5,15 L80,15 Z" fill="url(#mv)" stroke="#262626" stroke-width="1.1"/><rect x="80.00" y="-16.50" width="11.50" height="33.00" fill="url(#knurl)" stroke="#262626" stroke-width="1.1"/><rect x="91.50" y="-15.50" width="2.50" height="31.00" fill="url(#mv)" stroke="#262626" stroke-width="1.1" /><rect x="94.00" y="-16.50" width="11.50" height="33.00" fill="url(#knurl)" stroke="#262626" stroke-width="1.1"/><rect x="105.50" y="-13.00" width="42.50" height="26.00" fill="url(#mv)" stroke="#262626" stroke-width="1.1" /><rect x="148" y="-15" width="6" height="30" rx="3" fill="url(#mv)" stroke="#262626" stroke-width="1.1"/></g></g>
<path d="M437.5,649.6 L459.8,649.6 L450.4,805 Q448,809.5 445.6,805 Z" fill="#f4f4f4" stroke="#262626" stroke-width="1.4"/><path d="M440.5,650 L446.6,803 M456.8,650 L449.4,803 M446.3,650 L447.5,801 M450,650 L448.5,801" fill="none" stroke="#262626" stroke-width="1.05"/><rect x="471.50" y="616.00" width="3.50" height="31.00" fill="#d8d8d8" stroke="#262626" stroke-width="1.1" /><rect x="474" y="613.3" width="16.7" height="36.3" rx="1.5" fill="#5a5a5a" stroke="#262626" stroke-width="1.1"/><rect x="474.3" y="615.20" width="11.5" height="4.4" rx="2.2" fill="#7c7c7c" stroke="#262626" stroke-width="0.9"/><rect x="474.3" y="620.90" width="11.5" height="4.4" rx="2.2" fill="#7c7c7c" stroke="#262626" stroke-width="0.9"/><rect x="474.3" y="626.60" width="11.5" height="4.4" rx="2.2" fill="#7c7c7c" stroke="#262626" stroke-width="0.9"/><rect x="474.3" y="632.30" width="11.5" height="4.4" rx="2.2" fill="#7c7c7c" stroke="#262626" stroke-width="0.9"/><rect x="474.3" y="638.00" width="11.5" height="4.4" rx="2.2" fill="#7c7c7c" stroke="#262626" stroke-width="0.9"/><rect x="474.3" y="643.70" width="11.5" height="4.4" rx="2.2" fill="#7c7c7c" stroke="#262626" stroke-width="0.9"/><rect x="423.60" y="614.40" width="47.90" height="35.20" fill="url(#sprb)" stroke="#262626" stroke-width="1.2" /><path d="M425.8,605 L468.7,605 L467,614 L447.8,628.5 L428,614 Z" fill="url(#mh)" stroke="#262626" stroke-width="1.1"/><path d="M424.5,614.5 L447.8,631 L470.5,614.5" fill="none" stroke="#262626" stroke-width="1.1"/><path d="M444.5,649.6 L444.5,647 Q447.8,643 451,647 L451,649.6" fill="#f4f4f4" stroke="#262626" stroke-width="1"/><rect x="437.40" y="596.00" width="18.60" height="9.00" fill="url(#mh)" stroke="#262626" stroke-width="1.1" /><rect x="436.00" y="573.00" width="21.00" height="6.00" fill="#777" stroke="#262626" stroke-width="1.1" /><rect x="431.9" y="577.00" width="29.7" height="4.6" rx="2.3" fill="#f2f2f2" stroke="#262626" stroke-width="1.1"/><rect x="431.9" y="582.40" width="29.7" height="4.6" rx="2.3" fill="#f2f2f2" stroke="#262626" stroke-width="1.1"/><rect x="431.9" y="587.80" width="29.7" height="4.6" rx="2.3" fill="#f2f2f2" stroke="#262626" stroke-width="1.1"/><rect x="431.9" y="593.20" width="29.7" height="4.6" rx="2.3" fill="#f2f2f2" stroke="#262626" stroke-width="1.1"/><rect x="435.20" y="566.00" width="22.50" height="7.20" fill="#1c1c1c" stroke="#262626" stroke-width="1.1" /><rect x="438.00" y="553.00" width="18.00" height="13.00" fill="url(#mh)" stroke="#262626" stroke-width="1.1" /><path d="M400.5,561.5 L436,561.5 L436,566 L429.1,566 L429.1,594 Q427.5,596.5 426,594 L426,568 L404,568 L404,569.5 L400.5,569.5 Z" fill="#eeeeee" stroke="#262626" stroke-width="1"/><rect x="411.50" y="569.50" width="4.40" height="2.50" fill="#ddd" stroke="#262626" stroke-width="0.8" /><rect x="394.50" y="558.00" width="43.50" height="3.50" fill="#ececec" stroke="#262626" stroke-width="1.1" /><rect x="411.50" y="533.00" width="5.00" height="25.00" fill="url(#mh)" stroke="#262626" stroke-width="1.1" /><path d="M518.8,501.8 L527.6,519.4 L476,543.4 L467,525.8 Z" fill="#ececec" stroke="#262626" stroke-width="1.1"/><path d="M519.5,505.5 L469.5,529 M525.5,516 L474.5,539.5" fill="none" stroke="#262626" stroke-width="0.9"/><path d="M467,522.5 Q467,514 473,514 Q478,514 478.5,520 Z" fill="#eee" stroke="#262626" stroke-width="1"/><path d="M467.6,522.2 L497,522.6 L497.6,532.6 L467.6,532.6 Z" fill="url(#mv)" stroke="#262626" stroke-width="1.1"/><path d="M504.8,518.6 L526,524.5 Q529,526.5 526,528 L506.4,532.2 Z" fill="url(#mv)" stroke="#262626" stroke-width="1.1"/><circle cx="501.6" cy="527" r="5.8" fill="#f0f0f0" stroke="#262626" stroke-width="1.1"/><circle cx="501.6" cy="527" r="3.8" fill="#f4f4f4" stroke="#262626" stroke-width="1"/><path d="M436,504.5 L454.5,504.5 L459,509 L470.5,527 L459.5,545 L459,554 L438,554 L438,545 L430,543 L422,524.5 L432,509 Z" fill="url(#mh2)" stroke="#262626" stroke-width="1.2" stroke-linejoin="round"/><rect x="433.50" y="509.50" width="24.50" height="25.50" fill="#e4e4e4" stroke="#262626" stroke-width="1" /><rect x="439.50" y="509.50" width="12.00" height="25.50" fill="url(#mh)" stroke="#262626" stroke-width="1" /><line x1="436.5" y1="515.50" x2="454.5" y2="513.50" stroke="#262626" stroke-width="1"/><line x1="436.5" y1="518.90" x2="454.5" y2="516.90" stroke="#262626" stroke-width="1"/><line x1="436.5" y1="522.30" x2="454.5" y2="520.30" stroke="#262626" stroke-width="1"/><line x1="436.5" y1="525.70" x2="454.5" y2="523.70" stroke="#262626" stroke-width="1"/><path d="M385.5,522 L417,522.5 L426,527.5 L438.5,527.5 L438.5,533 L393.5,532.5 Z" fill="url(#mv)" stroke="#262626" stroke-width="1.1" stroke-linejoin="round"/><path d="M417,533 L436,534.5 L431.5,537 L430,542 L429,547 Z" fill="#bdbdbd" stroke="#262626" stroke-width="1" stroke-linejoin="round"/><path d="M431.5,537 L447,535.5 L444,557 L409,557 L435,544 L430,542 Z" fill="url(#mh)" stroke="#262626" stroke-width="1.1" stroke-linejoin="round"/>
<path d="M834.5,634 L834.5,632.0 A26.5,25.2 0 0 1 887.5,632 L887.5,636" fill="none" stroke="#262626" stroke-width="0.9"/><path d="M835.8,634 L835.8,632.0 A25.2,23.9 0 0 1 886.2,632 L886.2,636" fill="none" stroke="#262626" stroke-width="0.9"/><path d="M837.1,634 L837.1,632.0 A23.9,22.7 0 0 1 884.9,632 L884.9,636" fill="none" stroke="#262626" stroke-width="0.9"/><path d="M838.4,634 L838.4,632.0 A22.6,21.5 0 0 1 883.6,632 L883.6,636" fill="none" stroke="#262626" stroke-width="0.9"/><path d="M905.5,633.3 Q916,627 921,619 Q932,604 948.4,598.9 L962.7,680.1 Q940,677 927.6,667.1 Q918,661 909.4,661.3 Z" fill="url(#bell)" stroke="#262626" stroke-width="1.2"/><path d="M902.9,634.6 L906.5,634 L910,661.5 L906.2,662 Z" fill="#d8d8d8" stroke="#262626" stroke-width="1"/><path d="M948.4,596.3 L961.4,594.3 L975.7,679.5 L963.4,682.1 Z" fill="url(#knurl2)" stroke="#262626" stroke-width="1.2"/><path d="M811,650 L828,624 Q845,633 856,639 L866,640 L903,634.6 L906.2,661.9 Q898,662 892,668 Q886,676 885,690 L871.2,762.8 L844.8,762.8 L822,756.8 L822,752 L791.4,742.4 Q800,712 815,680 L819,660 Q815,655 811,650 Z" fill="url(#mh2)" stroke="#262626" stroke-width="1.2" stroke-linejoin="round"/><path d="M880,646 L903,634.6 L906.2,661.9 Q898,662 892,668 Q886,676 885,690 L871.2,762.8 L842.4,759.2 L862.8,680 L864,672 Q870,655 880,646 Z" fill="url(#trig)" stroke="#262626" stroke-width="1.1" stroke-linejoin="round"/><path d="M883.5,684.8 L871.5,684.8 Q869.5,686.3 871.5,687.8 L883.5,687.8" fill="#f2f2f2" stroke="#262626" stroke-width="0.9"/><path d="M882.5,689.8 L870.5,689.8 Q868.5,691.3 870.5,692.8 L882.5,692.8" fill="#f2f2f2" stroke="#262626" stroke-width="0.9"/><path d="M881.6,694.8 L869.6,694.8 Q867.6,696.3 869.6,697.8 L881.6,697.8" fill="#f2f2f2" stroke="#262626" stroke-width="0.9"/><path d="M880.6,699.8 L868.6,699.8 Q866.6,701.3 868.6,702.8 L880.6,702.8" fill="#f2f2f2" stroke="#262626" stroke-width="0.9"/><path d="M879.7,704.8 L867.7,704.8 Q865.7,706.3 867.7,707.8 L879.7,707.8" fill="#f2f2f2" stroke="#262626" stroke-width="0.9"/><path d="M878.8,709.8 L866.8,709.8 Q864.8,711.3 866.8,712.8 L878.8,712.8" fill="#f2f2f2" stroke="#262626" stroke-width="0.9"/><path d="M877.8,714.8 L865.8,714.8 Q863.8,716.3 865.8,717.8 L877.8,717.8" fill="#f2f2f2" stroke="#262626" stroke-width="0.9"/><path d="M876.9,719.8 L864.9,719.8 Q862.9,721.3 864.9,722.8 L876.9,722.8" fill="#f2f2f2" stroke="#262626" stroke-width="0.9"/><path d="M875.9,724.8 L863.9,724.8 Q861.9,726.3 863.9,727.8 L875.9,727.8" fill="#f2f2f2" stroke="#262626" stroke-width="0.9"/><path d="M875.0,729.8 L863.0,729.8 Q861.0,731.3 863.0,732.8 L875.0,732.8" fill="#f2f2f2" stroke="#262626" stroke-width="0.9"/><path d="M874.0,734.8 L862.0,734.8 Q860.0,736.3 862.0,737.8 L874.0,737.8" fill="#f2f2f2" stroke="#262626" stroke-width="0.9"/><path d="M873.0,739.8 L861.0,739.8 Q859.0,741.3 861.0,742.8 L873.0,742.8" fill="#f2f2f2" stroke="#262626" stroke-width="0.9"/><path d="M872.1,744.8 L860.1,744.8 Q858.1,746.3 860.1,747.8 L872.1,747.8" fill="#f2f2f2" stroke="#262626" stroke-width="0.9"/><path d="M871.1,749.8 L859.1,749.8 Q857.1,751.3 859.1,752.8 L871.1,752.8" fill="#f2f2f2" stroke="#262626" stroke-width="0.9"/><path d="M819,660 Q825,652 834,655 Q838,657 837,661 L832.8,680 L809.4,746.6 L791.4,742.4 Q800,712 815,680 Z" fill="url(#grip)" stroke="#262626" stroke-width="1.1" stroke-linejoin="round"/><path d="M810,693 Q818,694 825.6,697.4" fill="none" stroke="#262626" stroke-width="1"/><path d="M849,662 L848,669 L822,752 M852,665 L864,672 M858,659 L871,658" fill="none" stroke="#262626" stroke-width="1.1"/><path d="M829,625 Q845,633 856,639 L866,640 L850,663 L820,644 Z" fill="url(#ribs)" stroke="#262626" stroke-width="1.1"/><path d="M869.0,640.0 L869.0,645.5 L870.8,645.3 L870.8,639.8" fill="none" stroke="#262626" stroke-width="0.8"/><path d="M872.2,639.5 L872.2,645.0 L874.0,644.8 L874.0,639.3" fill="none" stroke="#262626" stroke-width="0.8"/><path d="M875.4,639.0 L875.4,644.5 L877.2,644.3 L877.2,638.8" fill="none" stroke="#262626" stroke-width="0.8"/><path d="M878.6,638.5 L878.6,644.0 L880.4,643.8 L880.4,638.3" fill="none" stroke="#262626" stroke-width="0.8"/><path d="M881.8,638.0 L881.8,643.5 L883.6,643.3 L883.6,637.8" fill="none" stroke="#262626" stroke-width="0.8"/><path d="M796,640 L814,614 L828,622 L811,650 Z" fill="url(#knurl2)" stroke="#262626" stroke-width="1.2" stroke-linejoin="round"/><path d="M791.4,742.4 L822,752 L821.4,765.2 L787.2,755.6 Z" fill="url(#grip)" stroke="#262626" stroke-width="1.1"/><line x1="826.8" y1="754.4" x2="838.8" y2="774.8" stroke="#262626" stroke-width="3.2" stroke-linecap="round"/><line x1="826.8" y1="754.4" x2="838.8" y2="774.8" stroke="#f0f0f0" stroke-width="1.3" stroke-linecap="round"/><circle cx="897.7" cy="643" r="2.4" fill="none" stroke="#262626" stroke-width="0.9"/>
<g transform="translate(794.80,789.00) rotate(-68.00)"><path d="M0.00,-10.66 L5.60,-13.00 L5.60,13.00 L0.00,10.66 Z" fill="url(#mv)" stroke="#262626" stroke-width="1.1" stroke-linejoin="round"/><path d="M5.60,-10.66 L11.20,-13.00 L11.20,13.00 L5.60,10.66 Z" fill="url(#mv)" stroke="#262626" stroke-width="1.1" stroke-linejoin="round"/><path d="M11.20,-10.66 L16.80,-13.00 L16.80,13.00 L11.20,10.66 Z" fill="url(#mv)" stroke="#262626" stroke-width="1.1" stroke-linejoin="round"/><path d="M16.80,-10.66 L22.40,-13.00 L22.40,13.00 L16.80,10.66 Z" fill="url(#mv)" stroke="#262626" stroke-width="1.1" stroke-linejoin="round"/><path d="M22.40,-10.66 L28.00,-13.00 L28.00,13.00 L22.40,10.66 Z" fill="url(#mv)" stroke="#262626" stroke-width="1.1" stroke-linejoin="round"/></g>
<rect x="614.90" y="109.50" width="81.00" height="21" fill="url(#pm)" stroke="#333" stroke-width="1"/><path d="M653.9,107.5 L653.9,103.5 A4,4 0 0 1 661.9,103.5 L661.9,107.5 Z" fill="#bdbdbd" stroke="#333" stroke-width="1"/><circle cx="657.9" cy="103.2" r="2.3" fill="#e6e6e6" stroke="#333" stroke-width="0.7"/><rect x="653.9" y="105.5" width="8" height="28" rx="1" fill="url(#cm)" stroke="#333" stroke-width="1"/><path d="M695.9,98.5 Q682,100.5 670,103.5" fill="none" stroke="#111" stroke-width="1.3"/><path d="M666,104.5 L672,100 L673,107 Z" fill="#111"/><rect x="775.10" y="109.80" width="81.90" height="21" fill="url(#pm)" stroke="#333" stroke-width="1"/><path d="M809.8,107.8 L809.8,103.8 A4,4 0 0 1 817.8,103.8 L817.8,107.8 Z" fill="#bdbdbd" stroke="#333" stroke-width="1"/><circle cx="813.8" cy="103.5" r="2.3" fill="#e6e6e6" stroke="#333" stroke-width="0.7"/><rect x="809.8" y="105.8" width="8" height="28" rx="1" fill="url(#cm)" stroke="#333" stroke-width="1"/><path d="M780,98.5 Q790,102.5 799,103.8" fill="none" stroke="#111" stroke-width="1.3"/><path d="M804,104.3 L797,100.3 L797.5,107.5 Z" fill="#111"/><path d="M702.20,112.60 L703.40,110.70 L706.70,110.70 L706.70,129.70 L703.40,129.70 L702.20,127.80 Z" fill="url(#mv)" stroke="#333" stroke-width="0.9"/><path d="M706.70,112.60 L707.90,110.70 L711.20,110.70 L711.20,129.70 L707.90,129.70 L706.70,127.80 Z" fill="url(#mv)" stroke="#333" stroke-width="0.9"/><path d="M711.20,112.60 L712.40,110.70 L715.70,110.70 L715.70,129.70 L712.40,129.70 L711.20,127.80 Z" fill="url(#mv)" stroke="#333" stroke-width="0.9"/><path d="M715.70,112.60 L716.90,110.70 L720.20,110.70 L720.20,129.70 L716.90,129.70 L715.70,127.80 Z" fill="url(#mv)" stroke="#333" stroke-width="0.9"/><path d="M755.52,112.60 L754.32,110.70 L750.80,110.70 L750.80,129.70 L754.32,129.70 L755.52,127.80 Z" fill="url(#mv)" stroke="#333" stroke-width="0.9"/><path d="M760.25,112.60 L759.05,110.70 L755.52,110.70 L755.52,129.70 L759.05,129.70 L760.25,127.80 Z" fill="url(#mv)" stroke="#333" stroke-width="0.9"/><path d="M764.98,112.60 L763.77,110.70 L760.25,110.70 L760.25,129.70 L763.77,129.70 L764.98,127.80 Z" fill="url(#mv)" stroke="#333" stroke-width="0.9"/><path d="M769.70,112.60 L768.50,110.70 L764.98,110.70 L764.98,129.70 L768.50,129.70 L769.70,127.80 Z" fill="url(#mv)" stroke="#333" stroke-width="0.9"/><rect x="720.2" y="111.2" width="30.6" height="18.4" fill="url(#pm2)" stroke="#333" stroke-width="1"/><path d="M726.5,146.48 L726,143.20 L727,142.20 L745,142.20 L746,143.20 L745.5,146.48 Z" fill="url(#mh)" stroke="#333" stroke-width="0.9"/><path d="M726.5,150.76 L726,147.48 L727,146.48 L745,146.48 L746,147.48 L745.5,150.76 Z" fill="url(#mh)" stroke="#333" stroke-width="0.9"/><path d="M726.5,155.04 L726,151.76 L727,150.76 L745,150.76 L746,151.76 L745.5,155.04 Z" fill="url(#mh)" stroke="#333" stroke-width="0.9"/><path d="M726.5,159.32 L726,156.04 L727,155.04 L745,155.04 L746,156.04 L745.5,159.32 Z" fill="url(#mh)" stroke="#333" stroke-width="0.9"/><path d="M726,143 L726,133 Q726,124.2 735.7,124.2 Q745.4,124.2 745.4,133 L745.4,143 Z" fill="url(#pmh)" stroke="#333" stroke-width="1"/><rect x="724.50" y="165.00" width="21" height="81.60" fill="url(#pmh)" stroke="#333" stroke-width="1"/><circle cx="719.0" cy="203.7" r="4" fill="#c4c4c4" stroke="#333" stroke-width="1"/><path d="M717.5,203.7 L720.5,203.7" stroke="#666" stroke-width="1.6"/><rect x="722.0" y="199.95" width="27" height="7.5" rx="1" fill="url(#cmh)" stroke="#333" stroke-width="1"/><path d="M714,166 Q719,180 719.5,190" fill="none" stroke="#111" stroke-width="1.3"/><path d="M719.5,196 L716.5,189 L722.5,189.5 Z" fill="#111"/><circle cx="885.6" cy="116.6" r="18.2" fill="#161616"/><text x="885.9" y="126.19999999999999" text-anchor="middle" font-family="Liberation Sans, sans-serif" font-weight="bold" font-size="27.5" fill="#fff" stroke="#fff" stroke-width="1.6" stroke-linejoin="round">1</text><rect x="699.00" y="291.00" width="21" height="82.00" fill="url(#pmh)" stroke="#333" stroke-width="1"/><path d="M700,293 L700,285 Q700,276 709.5,276 Q719,276 719,285 L719,293 Z" fill="url(#pmh)" stroke="#333" stroke-width="1"/><rect x="615.00" y="262.00" width="81.00" height="21" fill="url(#pm)" stroke="#333" stroke-width="1"/><rect x="723.00" y="262.00" width="81.60" height="21" fill="url(#pm)" stroke="#333" stroke-width="1"/><rect x="696" y="263" width="27" height="19" fill="url(#pm2)" stroke="#333" stroke-width="1"/><path d="M700,283 L700,284 Q700,276 709.5,276 Q719,276 719,284 L719,283" fill="url(#pmh)" stroke="#333" stroke-width="1"/><path d="M654,260.3 L654,256.3 A4,4 0 0 1 662,256.3 L662,260.3 Z" fill="#bdbdbd" stroke="#333" stroke-width="1"/><circle cx="658" cy="256.0" r="2.3" fill="#e6e6e6" stroke="#333" stroke-width="0.7"/><rect x="654.0" y="258.3" width="8" height="28" rx="1" fill="url(#cm)" stroke="#333" stroke-width="1"/><path d="M757.5,260.3 L757.5,256.3 A4,4 0 0 1 765.5,256.3 L765.5,260.3 Z" fill="#bdbdbd" stroke="#333" stroke-width="1"/><circle cx="761.5" cy="256.0" r="2.3" fill="#e6e6e6" stroke="#333" stroke-width="0.7"/><rect x="757.5" y="258.3" width="8" height="28" rx="1" fill="url(#cm)" stroke="#333" stroke-width="1"/><path d="M667,256.4 L684,256.4" fill="none" stroke="#111" stroke-width="1.3"/><path d="M689,256.4 L683,253.4 L683,259.4 Z" fill="#111"/><path d="M753,256.4 L736,256.4" fill="none" stroke="#111" stroke-width="1.3"/><path d="M731,256.4 L737,253.4 L737,259.4 Z" fill="#111"/><circle cx="693.0" cy="330" r="4" fill="#c4c4c4" stroke="#333" stroke-width="1"/><path d="M691.5,330 L694.5,330" stroke="#666" stroke-width="1.6"/><rect x="696.0" y="326.25" width="27" height="7.5" rx="1" fill="url(#cmh)" stroke="#333" stroke-width="1"/><path d="M692,322 L692,306" fill="none" stroke="#111" stroke-width="1.3"/><path d="M692,300.5 L689,307 L695,307 Z" fill="#111"/><circle cx="836.6" cy="268.6" r="18.2" fill="#161616"/><text x="836.9" y="278.20000000000005" text-anchor="middle" font-family="Liberation Sans, sans-serif" font-weight="bold" font-size="27.5" fill="#fff" stroke="#fff" stroke-width="1.6" stroke-linejoin="round">2</text><rect x="699.00" y="426.00" width="21" height="82.00" fill="url(#pmh)" stroke="#333" stroke-width="1"/><rect x="699" y="426" width="21" height="7.5" fill="url(#pmh)" stroke="#333" stroke-width="1"/><path d="M700,428 L700,420 Q700,411 709.5,411 Q719,411 719,420 L719,428 Z" fill="url(#pmh)" stroke="#333" stroke-width="1"/><rect x="615.00" y="397.00" width="81.00" height="21" fill="url(#pm)" stroke="#333" stroke-width="1"/><rect x="723.00" y="397.00" width="81.60" height="21" fill="url(#pm)" stroke="#333" stroke-width="1"/><rect x="696" y="398" width="27" height="19" fill="url(#pm2)" stroke="#333" stroke-width="1"/><path d="M700,418 L700,419 Q700,411 709.5,411 Q719,411 719,419 L719,418" fill="url(#pmh)" stroke="#333" stroke-width="1"/><path d="M682,393.3 L682,389.3 A4,4 0 0 1 690,389.3 L690,393.3 Z" fill="#bdbdbd" stroke="#333" stroke-width="1"/><circle cx="686" cy="389.0" r="2.3" fill="#e6e6e6" stroke="#333" stroke-width="0.7"/><rect x="682.0" y="391.3" width="8" height="31" rx="1" fill="url(#cm)" stroke="#333" stroke-width="1"/><path d="M730,393.3 L730,389.3 A4,4 0 0 1 738,389.3 L738,393.3 Z" fill="#bdbdbd" stroke="#333" stroke-width="1"/><circle cx="734" cy="389.0" r="2.3" fill="#e6e6e6" stroke="#333" stroke-width="0.7"/><rect x="730.0" y="391.3" width="8" height="31" rx="1" fill="url(#cm)" stroke="#333" stroke-width="1"/><circle cx="693.0" cy="436.8" r="4" fill="#c4c4c4" stroke="#333" stroke-width="1"/><path d="M691.5,436.8 L694.5,436.8" stroke="#666" stroke-width="1.6"/><rect x="696.0" y="433.05" width="27" height="7.5" rx="1" fill="url(#cmh)" stroke="#333" stroke-width="1"/><path d="M702.0,384.0 A6,6 0 1 0 704.0,392.0" fill="none" stroke="#111" stroke-width="1.2"/><path d="M704.0,383.0 L700.0,381.7 L700.8,386.3 Z" fill="#111"/><path d="M750.5,384.0 A6,6 0 1 0 752.5,392.0" fill="none" stroke="#111" stroke-width="1.2"/><path d="M752.5,383.0 L748.5,381.7 L749.3,386.3 Z" fill="#111"/><path d="M695.0,446.5 A6,6 0 1 0 697.0,454.5" fill="none" stroke="#111" stroke-width="1.2"/><path d="M697.0,445.5 L693.0,444.2 L693.8,448.8 Z" fill="#111"/><circle cx="836.6" cy="404" r="18.2" fill="#161616"/><text x="836.9" y="413.6" text-anchor="middle" font-family="Liberation Sans, sans-serif" font-weight="bold" font-size="27.5" fill="#fff" stroke="#fff" stroke-width="1.6" stroke-linejoin="round">3</text><path d="M879.4,283.4 L889.2,283.4 L889.2,364 L879.4,364 Z" fill="url(#sdm)" stroke="#222" stroke-width="1.1"/><path d="M878,248.4 L890.6,248.4 L894.8,276.4 L889.2,283.4 L879.4,283.4 L873.8,276.4 Z" fill="#a3a3a3" stroke="#222" stroke-width="1.1"/><path d="M881.5,266.5 L880.5,272.5 L883,274.5 L883,363" fill="none" stroke="#f8f8f8" stroke-width="1.8"/><path d="M865.4,365.5 Q884,363.5 903,364.6 L897.6,381 L900,389 L868.5,389 L870.5,381 Z" fill="#4a4a4a" stroke="#111" stroke-width="1.2" stroke-linejoin="round"/><path d="M867.5,392 Q869,386 884,386 Q899.5,386 900.5,392 L901.8,472 Q901,486 884.3,487 Q867,486 866.8,472 Z" fill="#4d4d4d" stroke="#111" stroke-width="1.4"/><path d="M867.5,391 Q884,385 900.5,391" fill="none" stroke="#111" stroke-width="2.4"/><path d="M867,474 Q884,469 901.5,474" fill="none" stroke="#111" stroke-width="1.3"/><path d="M875.8,399 Q874,430 875.2,465" fill="none" stroke="#111" stroke-width="3.6"/><path d="M888.8,399 Q887,430 888.2,465" fill="none" stroke="#111" stroke-width="3.6"/><path d="M875.8,399 Q874,430 875.2,465" fill="none" stroke="#f4f4f4" stroke-width="1.9"/><path d="M888.8,399 Q887,430 888.2,465" fill="none" stroke="#f4f4f4" stroke-width="1.9"/>
<circle cx="627.5" cy="855.5" r="58.5" fill="none" stroke="#dc1019" stroke-width="4.2"/>
</svg></body></html>
